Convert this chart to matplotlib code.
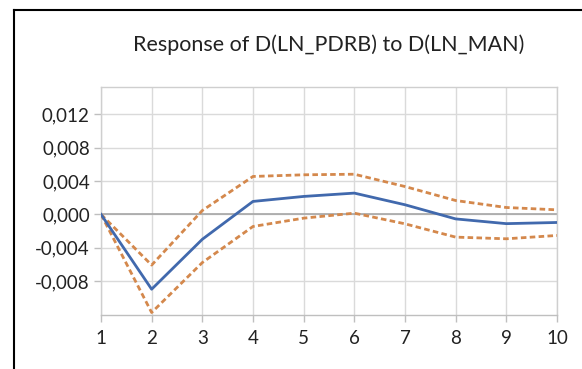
import matplotlib
matplotlib.use("Agg")
import matplotlib.pyplot as plt
from matplotlib.lines import Line2D

plt.rcParams['font.family'] = ['Lato', 'DejaVu Sans']

periods = [1, 2, 3, 4, 5, 6, 7, 8, 9, 10]
response = [0.0, -0.0090, -0.0030, 0.00155, 0.00215, 0.00255, 0.00115, -0.00055, -0.00112, -0.00098]
upper = [0.0, -0.0061, 0.00046, 0.00455, 0.00475, 0.00482, 0.00334, 0.00166, 0.00082, 0.00054]
lower = [0.0, -0.0118, -0.0058, -0.00146, -0.00046, 0.00014, -0.00114, -0.00274, -0.00294, -0.00254]
yticks = [-0.008, -0.004, 0.0, 0.004, 0.008, 0.012]
ylabels = ['-0,008', '-0,004', '0,000', '0,004', '0,008', '0,012']

fig = plt.figure(figsize=(5.82, 3.69), dpi=100)
ax = fig.add_axes([0.1735, 0.1463, 0.7835, 0.6179])

# frame lines around the picture (top and left only)
fig.add_artist(Line2D([14/582, 1], [1 - 9.5/369] * 2, color='black', lw=1.5))
fig.add_artist(Line2D([14/582] * 2, [0, 1 - 9.5/369], color='black', lw=1.5))

ax.plot(periods, upper, color='#d4884c', lw=2.0, ls=(0, (2, 1.2)), zorder=3)
ax.plot(periods, lower, color='#d4884c', lw=2.0, ls=(0, (2, 1.2)), zorder=3)
ax.plot(periods, response, color='#4169ad', lw=2.0, zorder=4)

ax.set_xlim(1, 10)
ax.set_ylim(-0.0121, 0.0153)
ax.set_xticks(periods)
ax.set_xticklabels([str(p) for p in periods])
ax.set_yticks(yticks)
ax.set_yticklabels(ylabels)

ax.grid(True, color='#dadada', lw=1.0)
ax.axhline(0, color='#a6a6a6', lw=1.2, zorder=2)
for s in ax.spines.values():
    s.set_color('#cfcfcf')
    s.set_linewidth(1.0)
ax.spines['bottom'].set_color('#bfbfbf')
ax.tick_params(axis='both', colors='#bfbfbf', labelcolor='#222222',
               labelsize=13.5, length=5, width=1.0)
ax.tick_params(axis='y', pad=3)
ax.tick_params(axis='x', pad=6)

fig.text(329/582, 1 - 45/369, 'Response of D(LN_PDRB) to D(LN_MAN)',
         ha='center', va='center', fontsize=15.5, color='#222222')

fig.savefig('out.png', dpi=100)
